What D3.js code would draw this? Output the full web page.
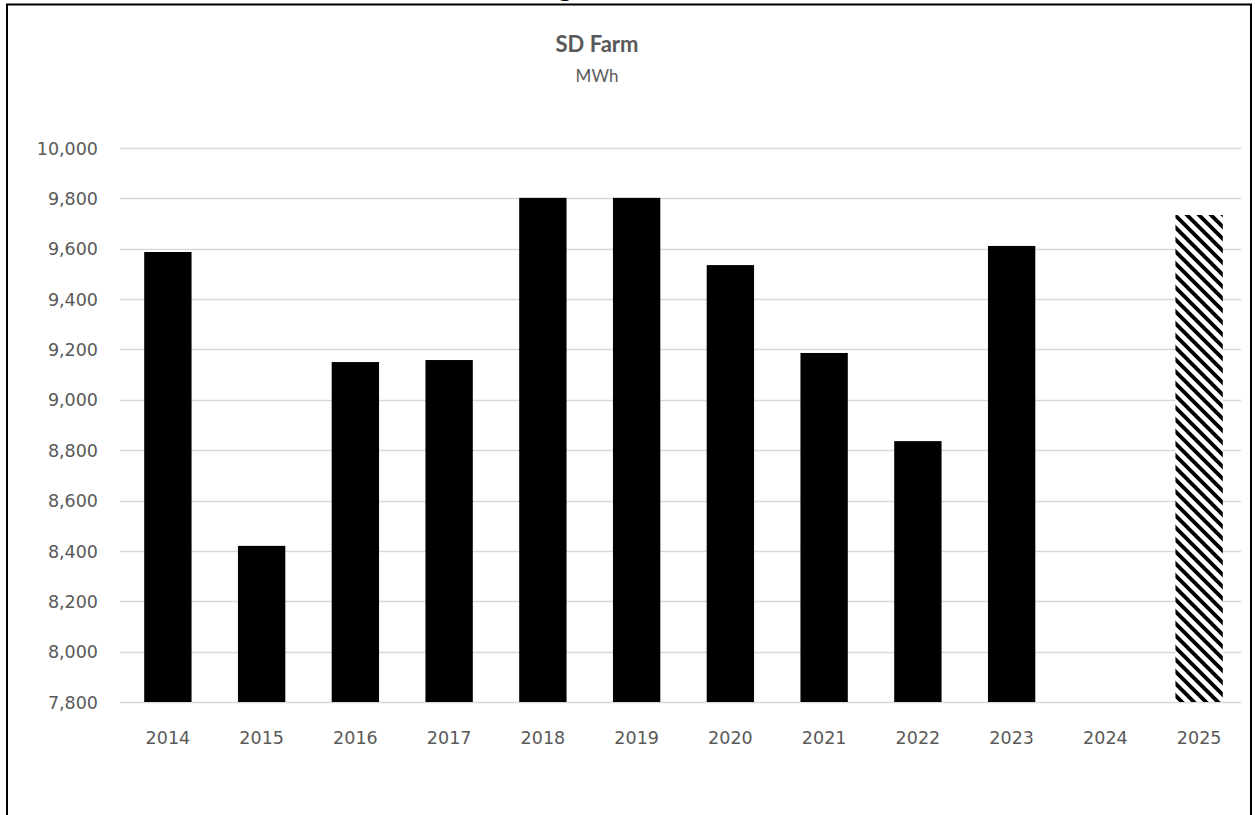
<!DOCTYPE html>
<html>
<head>
<title>SD Farm</title>
<style>
  body { margin: 0; background: #fff; }
  svg { display: block; }
</style>
<script type="text/javascript" src="https://d3js.org/d3.v7.min.js"></script>
</head>
<body>
<svg id="chart" width="1255" height="815"></svg>
<script type="text/javascript">
// data
const years = ["2014", "2015", "2016", "2017", "2018", "2019", "2020", "2021", "2022", "2023", "2024", "2025"];
const mwh = [9587, 8420, 9150, 9158, 9802, 9802, 9535, 9186, 8836, 9611, null, 9734];
const forecast = ["2025"];
const yTicks = [7800, 8000, 8200, 8400, 8600, 8800, 9000, 9200, 9400, 9600, 9800, 10000];

const svg = d3.select("#chart");
const W = 1255, H = 815;
const FONT = "Lato, 'Open Sans', sans-serif";
const TICKFONT = "'DejaVu Sans', Verdana, sans-serif";

// chart frame (bottom runs off the picture)
svg.append("path")
   .attr("d", `M7,${H + 5} V4.5 H1251 V${H + 5}`)
   .attr("fill", "none")
   .attr("stroke", "#000")
   .attr("stroke-width", 2);

// tail of a heading that sits above the frame
svg.append("text")
   .attr("x", 565).attr("y", -4)
   .attr("text-anchor", "middle")
   .style("font-family", "'Liberation Serif', serif")
   .style("font-weight", "bold")
   .style("font-size", "26px")
   .text("g");

const x = d3.scaleBand()
            .domain(years)
            .range([121, 1246])
            .paddingInner(0.495)
            .paddingOuter(0.2475);

const y = d3.scaleLinear()
            .domain([7800, 10000])
            .range([702, 148]);

// hatch for the forecast bar
const defs = svg.append("defs");
const P = 12;
const pat = defs.append("pattern")
   .attr("id", "hatch")
   .attr("patternUnits", "userSpaceOnUse")
   .attr("width", P).attr("height", P);
pat.append("rect").attr("width", P).attr("height", P).attr("fill", "#fff");
pat.append("path")
   .attr("d", `M-3,-3 L${P + 3},${P + 3} M-3,${P - 3} L3,${P + 3} M${P - 3},-3 L${P + 3},3`)
   .attr("stroke", "#000")
   .attr("stroke-width", 3.8);

// gridlines
svg.append("g")
   .selectAll("line")
   .data(yTicks)
   .join("line")
   .attr("x1", 120).attr("x2", 1241)
   .attr("y1", d => Math.round(y(d)) + 0.5)
   .attr("y2", d => Math.round(y(d)) + 0.5)
   .attr("stroke", "#d9d9d9")
   .attr("stroke-width", 1.3);

// y tick labels
const yAxis = d3.axisLeft(y)
                .tickValues(yTicks)
                .tickSize(0)
                .tickPadding(0)
                .tickFormat(d3.format(","));
const gy = svg.append("g")
   .attr("transform", "translate(98,0)")
   .call(yAxis);
gy.select(".domain").remove();
gy.selectAll("text")
  .attr("dy", "0.35em")
  .style("font-family", TICKFONT)
  .style("font-size", "17.5px")
  .attr("fill", "#595959");

// x tick labels
const xAxis = d3.axisBottom(x).tickSize(0).tickPadding(0);
const gx = svg.append("g")
   .attr("transform", "translate(0,738)")
   .call(xAxis);
gx.select(".domain").remove();
gx.selectAll("text")
  .attr("dy", "0.35em")
  .style("font-family", TICKFONT)
  .style("font-size", "17.5px")
  .attr("fill", "#595959");

// bars
svg.append("g")
   .selectAll("rect")
   .data(years.map((yr, i) => ({ yr: yr, v: mwh[i] })).filter(d => d.v !== null))
   .join("rect")
   .attr("x", d => x(d.yr))
   .attr("width", x.bandwidth())
   .attr("y", d => y(d.v))
   .attr("height", d => y(7800) - y(d.v))
   .attr("fill", d => forecast.includes(d.yr) ? "url(#hatch)" : "#000");

// titles
svg.append("text")
   .attr("x", 597).attr("y", 52)
   .attr("text-anchor", "middle")
   .style("font-family", FONT)
   .style("font-weight", "bold")
   .style("font-size", "22px")
   .attr("fill", "#595959")
   .text("SD Farm");

svg.append("text")
   .attr("x", 597).attr("y", 82)
   .attr("text-anchor", "middle")
   .style("font-family", FONT)
   .style("font-size", "17px")
   .attr("fill", "#595959")
   .text("MWh");
</script>
</body>
</html>
